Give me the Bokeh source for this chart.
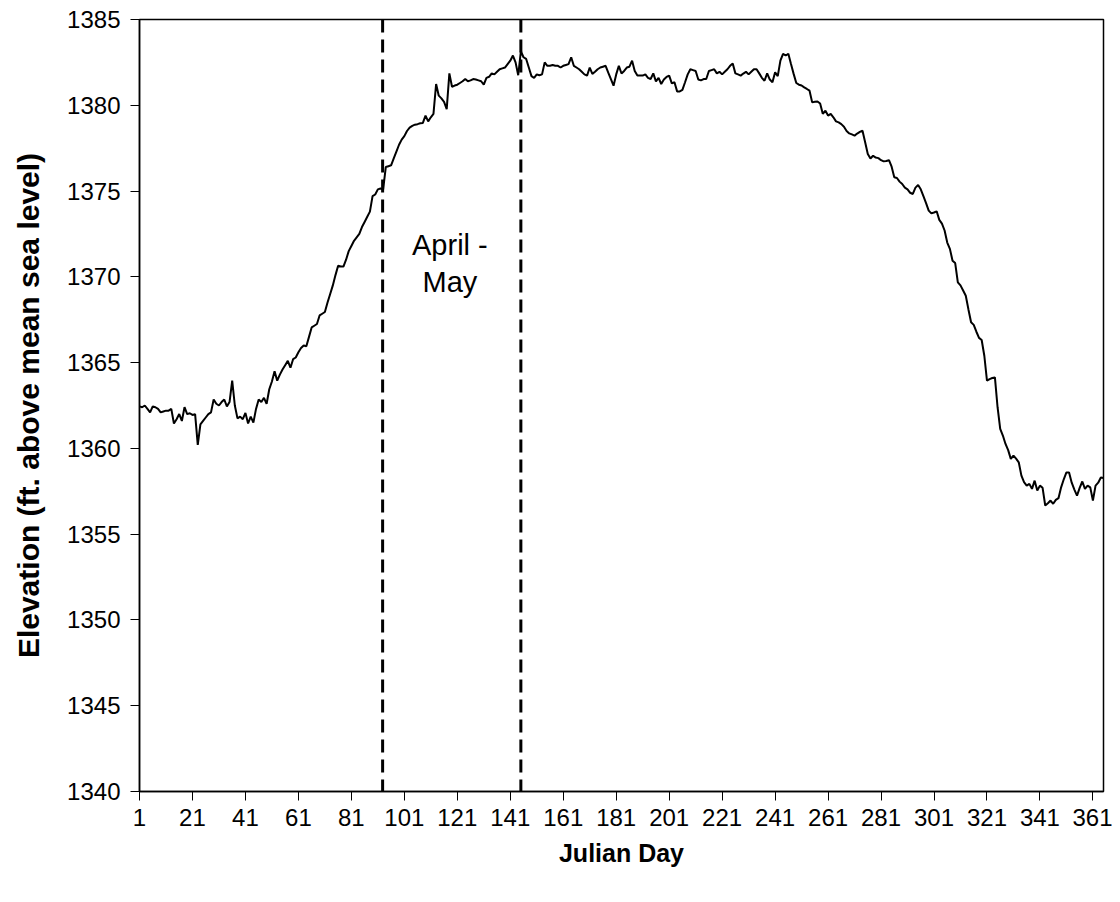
from bokeh.plotting import figure
from bokeh.models import Range1d, FixedTicker, Span, Label
from bokeh.embed import file_html
from bokeh.resources import INLINE

days = list(range(1, 366))

elevation = [
    1362.45, 1362.4, 1362.5, 1362.3, 1362.1, 1362.45, 1362.4, 1362.3, 1362.1, 1362.15,
    1362.2, 1362.2, 1362.3, 1361.45, 1361.7, 1362.0, 1361.6, 1362.4, 1362.0, 1362.05,
    1361.95, 1362.0, 1360.2, 1361.4, 1361.6, 1361.8, 1362.0, 1362.1, 1362.85, 1362.6,
    1362.5, 1362.7, 1362.85, 1362.45, 1362.7, 1363.95, 1362.5, 1361.75, 1361.85, 1361.7,
    1362.07, 1361.45, 1361.85, 1361.5, 1362.3, 1362.85, 1362.7, 1362.95, 1362.6, 1363.45,
    1363.9, 1364.5, 1363.95, 1364.3, 1364.6, 1364.85, 1365.1, 1364.7, 1365.2, 1365.3,
    1365.6, 1365.85, 1366.0, 1365.95, 1366.5, 1367.05, 1367.15, 1367.25, 1367.75, 1367.85,
    1367.95, 1368.5, 1369.0, 1369.5, 1370.1, 1370.65, 1370.6, 1370.6, 1371.0, 1371.5,
    1371.8, 1372.1, 1372.3, 1372.5, 1372.9, 1373.2, 1373.5, 1373.8, 1374.7, 1374.8,
    1375.1, 1375.15, 1375.1, 1376.4, 1376.45, 1376.5, 1376.9, 1377.3, 1377.7, 1378.0,
    1378.2, 1378.5, 1378.7, 1378.8, 1378.87, 1378.9, 1378.95, 1378.97, 1379.4, 1379.06,
    1379.3, 1379.5, 1381.24, 1380.56, 1380.4, 1380.2, 1379.78, 1381.86, 1381.08, 1381.15,
    1381.2, 1381.3, 1381.4, 1381.53, 1381.4, 1381.45, 1381.53, 1381.5, 1381.45, 1381.4,
    1381.2, 1381.6, 1381.66, 1381.86, 1381.8, 1381.95, 1382.1, 1382.15, 1382.2, 1382.4,
    1382.6, 1382.9, 1382.5, 1381.75, 1383.15, 1382.8, 1382.7, 1382.2, 1381.7, 1381.6,
    1381.8, 1381.75, 1381.8, 1382.5, 1382.3, 1382.3, 1382.35, 1382.3, 1382.3, 1382.2,
    1382.3, 1382.35, 1382.4, 1382.8, 1382.3, 1382.2, 1382.1, 1381.95, 1381.8, 1381.73,
    1382.2, 1381.83, 1381.95, 1382.1, 1382.2, 1382.25, 1382.3, 1381.9, 1381.53, 1381.14,
    1381.8, 1382.3, 1381.85, 1382.0, 1382.2, 1382.25, 1382.6, 1382.0, 1381.73, 1381.73,
    1381.73, 1381.8, 1381.6, 1381.53, 1381.86, 1381.39, 1381.6, 1381.24, 1381.5, 1381.65,
    1381.73, 1381.28, 1381.34, 1380.81, 1380.81, 1380.9, 1381.34, 1381.8, 1382.1, 1382.05,
    1382.0, 1381.5, 1381.45, 1381.53, 1381.53, 1382.0, 1382.05, 1382.1, 1381.86, 1381.95,
    1381.8, 1381.95, 1382.1, 1382.3, 1382.43, 1381.86, 1381.8, 1381.73, 1381.85, 1381.95,
    1381.8, 1381.95, 1382.1, 1382.1, 1381.86, 1381.6, 1381.43, 1381.86, 1381.5, 1381.34,
    1381.92, 1381.7, 1382.6, 1383.0, 1382.9, 1383.0, 1382.4, 1381.83, 1381.3, 1381.2,
    1381.15, 1381.04, 1380.95, 1380.85, 1380.17, 1380.2, 1380.22, 1380.1, 1379.5, 1379.68,
    1379.4, 1379.5, 1379.3, 1379.06, 1379.0, 1378.9, 1378.75, 1378.5, 1378.36, 1378.3,
    1378.23, 1378.35, 1378.45, 1378.52, 1377.84, 1377.16, 1376.9, 1377.06, 1376.95, 1376.92,
    1376.8, 1376.73, 1376.75, 1376.8, 1376.42, 1375.8, 1375.76, 1375.55, 1375.41, 1375.2,
    1375.1, 1374.9, 1374.83, 1375.2, 1375.35, 1375.1, 1374.7, 1374.3, 1373.86, 1373.7,
    1373.75, 1373.82, 1373.32, 1373.1, 1372.7, 1372.0, 1371.63, 1370.94, 1370.8, 1369.68,
    1369.5, 1369.2, 1368.9, 1368.1, 1367.35, 1367.2, 1366.8, 1366.44, 1366.32, 1365.4,
    1363.95, 1364.04, 1364.1, 1364.14, 1362.4, 1361.14, 1360.75, 1360.26, 1359.9, 1359.39,
    1359.58, 1359.4, 1359.19, 1358.41, 1358.03, 1357.83, 1357.93, 1357.64, 1358.12, 1357.54,
    1357.83, 1357.7, 1356.67, 1356.8, 1356.96, 1356.77, 1357.0, 1357.1, 1357.73, 1358.2,
    1358.6, 1358.6, 1358.0, 1357.6, 1357.25, 1357.7, 1358.07, 1357.64, 1357.83, 1357.73,
    1356.96, 1357.83, 1358.0, 1358.3, 1358.27,
]

x_ticks = [1, 21, 41, 61, 81, 101, 121, 141, 161, 181, 201, 221, 241, 261, 281, 301, 321, 341, 361]
y_ticks = [1340, 1345, 1350, 1355, 1360, 1365, 1370, 1375, 1380, 1385]
period_bounds = [92.8, 145.0]
period_label = ["April -", "May"]

FONT = "Liberation Sans"

p = figure(width=1112, height=894,
           x_range=Range1d(1, 365), y_range=Range1d(1340, 1385),
           output_backend="svg", toolbar_location=None,
           min_border_left=139, min_border_right=9,
           min_border_top=19, min_border_bottom=103)

p.background_fill_color = "white"
p.border_fill_color = "white"
p.outline_line_color = "black"
p.outline_line_width = 1.5
p.xgrid.visible = False
p.ygrid.visible = False

p.line(days, elevation, line_color="black", line_width=2)

for b in period_bounds:
    p.add_layout(Span(location=b, dimension="height", line_color="black",
                      line_width=3, line_dash="13 7"))

p.add_layout(Label(x=118.2, y=1371.88, text=period_label[0], text_align="center",
                   text_baseline="alphabetic", text_font=FONT, text_font_size="29px",
                   text_color="black"))
p.add_layout(Label(x=118.2, y=1369.68, text=period_label[1], text_align="center",
                   text_baseline="alphabetic", text_font=FONT, text_font_size="29px",
                   text_color="black"))

for ax in (p.xaxis[0], p.yaxis[0]):
    ax.axis_line_color = "black"
    ax.axis_line_width = 1.5
    ax.major_tick_line_color = "black"
    ax.major_tick_line_width = 1
    ax.major_tick_out = 9
    ax.major_tick_in = 0
    ax.minor_tick_line_color = None
    ax.major_label_text_font = FONT
    ax.major_label_text_font_size = "24px"
    ax.major_label_text_color = "black"
    ax.axis_label_text_font = FONT
    ax.axis_label_text_font_style = "bold"
    ax.axis_label_text_color = "black"

p.xaxis.axis_label_text_font_size = "25px"
p.yaxis.axis_label_text_font_size = "30px"

p.xaxis.ticker = FixedTicker(ticks=x_ticks)
p.yaxis.ticker = FixedTicker(ticks=y_ticks)
p.xaxis.axis_label = "Julian Day"
p.yaxis.axis_label = "Elevation (ft. above mean sea level)"
p.xaxis.major_label_standoff = 8
p.yaxis.major_label_standoff = 10
p.xaxis.axis_label_standoff = 10
p.yaxis.axis_label_standoff = 19

open("out.html", "w").write(file_html(p, INLINE))
